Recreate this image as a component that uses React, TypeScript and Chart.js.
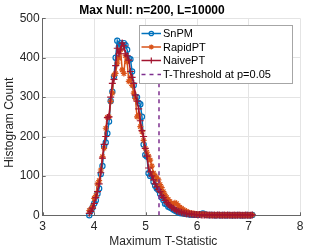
import React, { useEffect, useRef } from "react";
import { Chart, registerables } from "chart.js";
import { drawPoint } from "chart.js/helpers";

Chart.register(...registerables);

const titleText = "Max Null: n=200, L=10000";
const xTitle = "Maximum T-Statistic";
const yTitle = "Histogram Count";
const thresholdLabel = "T-Threshold at p=0.05";
const seriesNames = ["SnPM", "RapidPT", "NaivePT"];
const threshold = 5.26;
const thresholdTop = 445;

const bins = [
  3.905, 3.937, 3.969, 4.001, 4.033, 4.065, 4.097, 4.129, 4.161, 4.193,
  4.225, 4.257, 4.289, 4.321, 4.353, 4.385, 4.417, 4.449, 4.481, 4.513,
  4.545, 4.577, 4.609, 4.641, 4.673, 4.705, 4.737, 4.769, 4.801, 4.833,
  4.865, 4.897, 4.929, 4.961, 4.993, 5.025, 5.057, 5.089, 5.121, 5.153,
  5.185, 5.217, 5.249, 5.281, 5.313, 5.345, 5.377, 5.409, 5.441, 5.473,
  5.505, 5.537, 5.569, 5.601, 5.633, 5.665, 5.697, 5.729, 5.761, 5.793,
  5.825, 5.857, 5.889, 5.921, 5.953, 5.985, 6.017, 6.049, 6.081, 6.113,
  6.145, 6.177, 6.209, 6.241, 6.273, 6.305, 6.337, 6.369, 6.401, 6.433,
  6.465, 6.497, 6.529, 6.561, 6.593, 6.625, 6.657, 6.689, 6.721, 6.753,
  6.785, 6.817, 6.849, 6.881, 6.913, 6.945, 6.977, 7.009, 7.041, 7.073,
];

const snpm = [
  0, 12, 20, 30, 38, 55, 68, 105, 125, 175,
  185, 208, 238, 290, 314, 352, 400, 443, 428, 437,
  430, 437, 432, 420, 398, 396, 365, 330, 301, 300,
  285, 282, 250, 180, 153, 149, 107, 100, 102, 85,
  75, 68, 64, 55, 45, 39, 29, 28, 22, 20,
  18, 15, 12, 10, 8, 6, 5, 5, 4, 3,
  3, 2, 2, 2, 1, 2, 1, 2, 3, 5,
  3, 1, 1, 0, 1, 1, 0, 0, 1, 0,
  0, 1, 0, 0, 0, 1, 0, 0, 0, 0,
  1, 0, 0, 0, 0, 0, 1, 0, 0, 1,
];

const rapidpt = [
  12, 15, 22, 43, 50, 80, 88, 115, 149, 170,
  221, 249, 250, 289, 310, 356, 360, 386, 399, 420,
  369, 360, 405, 390, 340, 350, 330, 310, 297, 250,
  255, 225, 212, 190, 170, 160, 150, 140, 125, 107,
  100, 95, 90, 78, 70, 60, 52, 45, 40, 35,
  30, 28, 32, 30, 25, 20, 18, 14, 12, 10,
  8, 6, 5, 5, 4, 3, 3, 2, 2, 3,
  2, 2, 1, 1, 0, 1, 1, 0, 1, 0,
  1, 0, 0, 1, 0, 0, 1, 0, 0, 0,
  1, 0, 0, 1, 0, 0, 0, 0, 1, 1,
];

const naivept = [
  5, 10, 18, 30, 45, 60, 80, 108, 145, 180,
  200, 248, 250, 300, 335, 345, 380, 424, 410, 420,
  437, 430, 410, 405, 394, 365, 350, 335, 305, 290,
  270, 240, 215, 200, 170, 150, 120, 110, 100, 90,
  80, 72, 65, 60, 50, 45, 38, 32, 28, 24,
  20, 18, 15, 12, 10, 9, 8, 6, 5, 4,
  4, 3, 3, 2, 2, 2, 1, 2, 1, 1,
  1, 1, 1, 1, 1, 0, 1, 0, 1, 1,
  0, 0, 1, 0, 1, 0, 0, 0, 1, 0,
  0, 1, 0, 0, 0, 1, 0, 0, 0, 1,
];

const FONT = '"Liberation Sans", Arial, Helvetica, sans-serif';
const TEXT = "#262626";

const overlay = {
  id: "overlay",
  beforeDatasetsDraw(chart: any) {
    const { ctx, chartArea: a, scales } = chart;
    ctx.save();
    ctx.strokeStyle = "#666";
    ctx.lineWidth = 1;
    const xs = scales.x;
    const ys = scales.y;
    xs.ticks.forEach((t: any) => {
      const px = Math.round(xs.getPixelForValue(t.value)) + 0.5;
      ctx.beginPath();
      ctx.moveTo(px, a.bottom);
      ctx.lineTo(px, a.bottom - 3);
      ctx.stroke();
    });
    ys.ticks.forEach((t: any) => {
      const py = Math.round(ys.getPixelForValue(t.value)) + 0.5;
      ctx.beginPath();
      ctx.moveTo(a.left, py);
      ctx.lineTo(a.left + 3, py);
      ctx.stroke();
    });
    ctx.restore();
  },
  afterDraw(chart: any) {
    const { ctx, chartArea: a } = chart;
    ctx.save();
    ctx.textAlign = "center";
    ctx.textBaseline = "middle";
    ctx.fillStyle = "#000";
    ctx.font = `bold 12px ${FONT}`;
    ctx.fillText(titleText, 152, 11);

    ctx.fillStyle = TEXT;
    ctx.font = `12px ${FONT}`;
    ctx.fillText(xTitle, (a.left + a.right) / 2 - 8, 241.5);

    ctx.save();
    ctx.translate(9.5, (a.top + a.bottom) / 2 + 6);
    ctx.rotate(-Math.PI / 2);
    ctx.fillText(yTitle, 0, 0);
    ctx.restore();

    // legend
    const bx = 139.5, by = 25.5, bw = 153, bh = 58;
    ctx.fillStyle = "#fff";
    ctx.fillRect(bx, by, bw, bh);
    ctx.strokeStyle = "#a6a6a6";
    ctx.lineWidth = 1;
    ctx.strokeRect(bx, by, bw, bh);

    const rowY = [33.5, 47, 60.5, 74.5];
    chart.data.datasets.forEach((ds: any, i: number) => {
      const y = rowY[i];
      ctx.save();
      ctx.strokeStyle = ds.borderColor;
      ctx.lineWidth = ds.borderWidth;
      ctx.setLineDash(ds.borderDash || []);
      ctx.beginPath();
      ctx.moveTo(141.5, y);
      ctx.lineTo(161, y);
      ctx.stroke();
      ctx.setLineDash([]);
      if (ds.pointRadius > 0) {
        ctx.strokeStyle = ds.pointBorderColor;
        ctx.fillStyle = ds.pointBackgroundColor;
        ctx.lineWidth = ds.pointBorderWidth;
        drawPoint(
          ctx,
          { pointStyle: ds.pointStyle, radius: ds.pointRadius * 0.85, borderWidth: ds.pointBorderWidth, rotation: 0 } as any,
          151.3,
          y
        );
      }
      ctx.restore();
      ctx.fillStyle = "#000";
      ctx.textAlign = "left";
      ctx.font = `11px ${FONT}`;
      ctx.fillText(ds.label, 163, y + 0.5);
    });
    ctx.restore();
  },
};

export default function App() {
  const ref = useRef<HTMLCanvasElement>(null);
  useEffect(() => {
    const toPts = (vals: number[]) => vals.map((v, i) => ({ x: bins[i], y: v }));
    const mk = (label: string, vals: number[], color: string, style: string, r: number, order: number) => ({
      label,
      data: toPts(vals),
      borderColor: color,
      backgroundColor: color,
      borderWidth: 1.5,
      pointStyle: style,
      pointRadius: r,
      pointBorderColor: color,
      pointBackgroundColor: style === "circle" ? "rgba(0,0,0,0)" : color,
      pointBorderWidth: 1.2,
      tension: 0,
      clip: false,
      order,
    });
    const chart = new Chart(ref.current as HTMLCanvasElement, {
      type: "line",
      data: {
        datasets: [
          mk(seriesNames[0], snpm, "#0072BD", "circle", 2.6, 3),
          mk(seriesNames[1], rapidpt, "#D95319", "star", 3, 2),
          mk(seriesNames[2], naivept, "#A2142F", "cross", 3.5, 1),
          {
            label: thresholdLabel,
            data: [
              { x: threshold, y: 0 },
              { x: threshold, y: thresholdTop },
            ],
            borderColor: "#7E2F8E",
            backgroundColor: "#7E2F8E",
            borderWidth: 1.5,
            borderDash: [4, 4],
            pointRadius: 0,
            order: 0,
          } as any,
        ],
      },
      options: {
        responsive: false,
        animation: false,
        layout: { padding: { left: 0, top: 18.3, right: 32, bottom: 0 } },
        plugins: { legend: { display: false }, title: { display: false }, tooltip: { enabled: false } },
        scales: {
          x: {
            type: "linear",
            min: 3,
            max: 8,
            ticks: { stepSize: 1, padding: 4, color: TEXT, font: { family: FONT, size: 12 } },
            grid: { color: "#e4e4e4", drawTicks: false },
            border: { color: "#666", width: 1 },
            afterFit: (s: any) => {
              s.height = 33.7;
            },
          },
          y: {
            min: 0,
            max: 500,
            ticks: { stepSize: 100, padding: 3, color: TEXT, font: { family: FONT, size: 12 } },
            grid: { color: "#e4e4e4", drawTicks: false },
            border: { color: "#666", width: 1 },
            afterFit: (s: any) => {
              s.width = 42.7;
            },
          },
        },
      },
      plugins: [overlay],
    } as any);
    return () => chart.destroy();
  }, []);
  return (
    <div style={{ position: "fixed", left: 0, top: 0, width: 332, height: 249, background: "#fff" }}>
      <canvas ref={ref} width={332} height={249} style={{ width: 332, height: 249, display: "block" }} />
    </div>
  );
}
